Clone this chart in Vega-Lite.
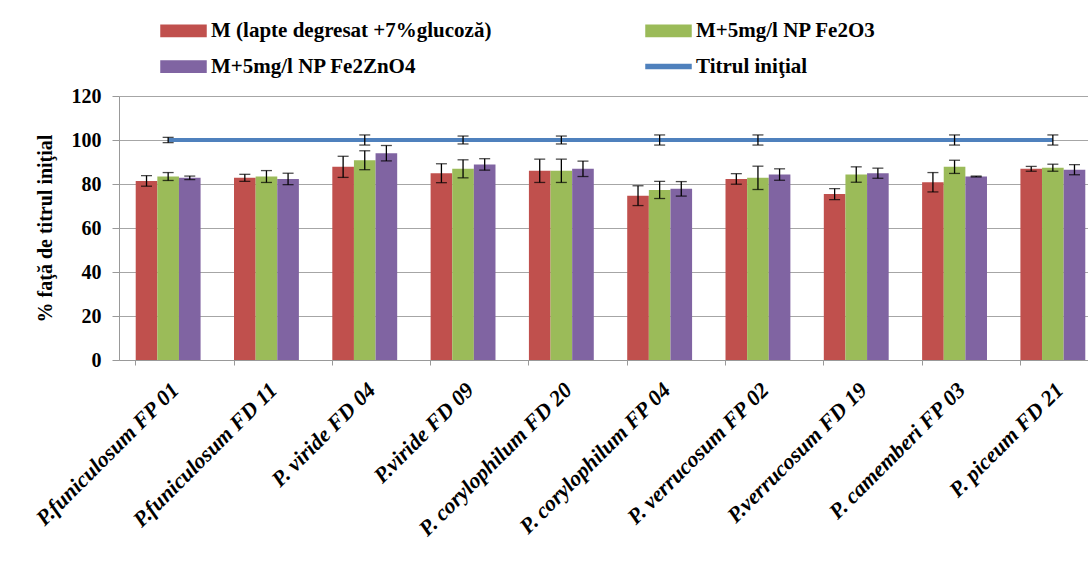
{
  "$schema": "https://vega.github.io/schema/vega-lite/v6.json",
  "width": 969,
  "height": 264,
  "autosize": {"type": "none"},
  "padding": {"left": 119, "top": 96, "right": 0, "bottom": 203},
  "background": "white",
  "config": {
    "font": "Liberation Serif",
    "view": {"stroke": null},
    "axis": {"labelFont": "Liberation Serif", "titleFont": "Liberation Serif", "labelColor": "black", "titleColor": "black", "domainColor": "#999999", "tickColor": "#999999", "gridColor": "#a6a6a6"},
    "legend": {"labelFont": "Liberation Serif"}
  },
  "datasets": {
    "bars": [
      {"strain": "P.funiculosum FP 01", "series": "M (lapte degresat +7%glucoză)", "value": 81.4, "lo": 79.0, "hi": 83.8},
      {"strain": "P.funiculosum FP 01", "series": "M+5mg/l NP Fe2O3", "value": 83.4, "lo": 81.6, "hi": 85.2},
      {"strain": "P.funiculosum FP 01", "series": "M+5mg/l NP Fe2ZnO4", "value": 82.8, "lo": 82.0, "hi": 83.6},
      {"strain": "P.funiculosum FD 11", "series": "M (lapte degresat +7%glucoză)", "value": 82.8, "lo": 81.2, "hi": 84.4},
      {"strain": "P.funiculosum FD 11", "series": "M+5mg/l NP Fe2O3", "value": 83.4, "lo": 80.7, "hi": 86.1},
      {"strain": "P.funiculosum FD 11", "series": "M+5mg/l NP Fe2ZnO4", "value": 82.3, "lo": 79.7, "hi": 84.9},
      {"strain": "P. viride FD 04", "series": "M (lapte degresat +7%glucoză)", "value": 87.8, "lo": 83.0, "hi": 92.6},
      {"strain": "P. viride FD 04", "series": "M+5mg/l NP Fe2O3", "value": 90.8, "lo": 86.5, "hi": 95.1},
      {"strain": "P. viride FD 04", "series": "M+5mg/l NP Fe2ZnO4", "value": 94.0, "lo": 90.5, "hi": 97.5},
      {"strain": "P.viride FD 09", "series": "M (lapte degresat +7%glucoză)", "value": 84.9, "lo": 80.6, "hi": 89.2},
      {"strain": "P.viride FD 09", "series": "M+5mg/l NP Fe2O3", "value": 86.9, "lo": 82.8, "hi": 91.0},
      {"strain": "P.viride FD 09", "series": "M+5mg/l NP Fe2ZnO4", "value": 88.9, "lo": 86.3, "hi": 91.5},
      {"strain": "P. corylophilum FD 20", "series": "M (lapte degresat +7%glucoză)", "value": 86.0, "lo": 80.7, "hi": 91.3},
      {"strain": "P. corylophilum FD 20", "series": "M+5mg/l NP Fe2O3", "value": 86.0, "lo": 80.7, "hi": 91.3},
      {"strain": "P. corylophilum FD 20", "series": "M+5mg/l NP Fe2ZnO4", "value": 86.9, "lo": 83.4, "hi": 90.4},
      {"strain": "P. corylophilum FP 04", "series": "M (lapte degresat +7%glucoză)", "value": 74.7, "lo": 70.2, "hi": 79.2},
      {"strain": "P. corylophilum FP 04", "series": "M+5mg/l NP Fe2O3", "value": 77.3, "lo": 73.4, "hi": 81.2},
      {"strain": "P. corylophilum FP 04", "series": "M+5mg/l NP Fe2ZnO4", "value": 77.8, "lo": 74.5, "hi": 81.1},
      {"strain": "P. verrucosum FP 02", "series": "M (lapte degresat +7%glucoză)", "value": 82.3, "lo": 79.9, "hi": 84.7},
      {"strain": "P. verrucosum FP 02", "series": "M+5mg/l NP Fe2O3", "value": 82.8, "lo": 77.5, "hi": 88.1},
      {"strain": "P. verrucosum FP 02", "series": "M+5mg/l NP Fe2ZnO4", "value": 84.3, "lo": 81.7, "hi": 86.9},
      {"strain": "P.verrucosum FD 19", "series": "M (lapte degresat +7%glucoză)", "value": 75.4, "lo": 72.9, "hi": 77.9},
      {"strain": "P.verrucosum FD 19", "series": "M+5mg/l NP Fe2O3", "value": 84.3, "lo": 80.8, "hi": 87.8},
      {"strain": "P.verrucosum FD 19", "series": "M+5mg/l NP Fe2ZnO4", "value": 84.9, "lo": 82.6, "hi": 87.2},
      {"strain": "P. camemberi FP 03", "series": "M (lapte degresat +7%glucoză)", "value": 80.8, "lo": 76.4, "hi": 85.2},
      {"strain": "P. camemberi FP 03", "series": "M+5mg/l NP Fe2O3", "value": 87.8, "lo": 84.8, "hi": 90.8},
      {"strain": "P. camemberi FP 03", "series": "M+5mg/l NP Fe2ZnO4", "value": 83.4, "lo": 83.2, "hi": 83.6},
      {"strain": "P. piceum FD 21", "series": "M (lapte degresat +7%glucoză)", "value": 86.9, "lo": 85.8, "hi": 88.0},
      {"strain": "P. piceum FD 21", "series": "M+5mg/l NP Fe2O3", "value": 87.4, "lo": 85.8, "hi": 89.0},
      {"strain": "P. piceum FD 21", "series": "M+5mg/l NP Fe2ZnO4", "value": 86.5, "lo": 84.2, "hi": 88.8}
    ],
    "line": [
      {"strain": "P.funiculosum FP 01", "series": "Titrul iniţial", "value": 100, "lo": 98.8, "hi": 101.2},
      {"strain": "P.funiculosum FD 11", "series": "Titrul iniţial", "value": 100},
      {"strain": "P. viride FD 04", "series": "Titrul iniţial", "value": 100, "lo": 97.7, "hi": 102.3},
      {"strain": "P.viride FD 09", "series": "Titrul iniţial", "value": 100, "lo": 98.2, "hi": 101.8},
      {"strain": "P. corylophilum FD 20", "series": "Titrul iniţial", "value": 100, "lo": 98.2, "hi": 101.8},
      {"strain": "P. corylophilum FP 04", "series": "Titrul iniţial", "value": 100, "lo": 97.7, "hi": 102.3},
      {"strain": "P. verrucosum FP 02", "series": "Titrul iniţial", "value": 100, "lo": 97.7, "hi": 102.3},
      {"strain": "P.verrucosum FD 19", "series": "Titrul iniţial", "value": 100},
      {"strain": "P. camemberi FP 03", "series": "Titrul iniţial", "value": 100, "lo": 97.7, "hi": 102.3},
      {"strain": "P. piceum FD 21", "series": "Titrul iniţial", "value": 100, "lo": 97.7, "hi": 102.3}
    ]
  },
  "layer": [
    {
      "data": {"name": "bars"},
      "mark": {"type": "bar"},
      "encoding": {
        "x": {
          "field": "strain", "type": "nominal", "sort": null,
          "scale": {"range": [0, 983], "paddingInner": 0.34, "paddingOuter": 0.17},
          "axis": {"title": null, "labelAngle": -45, "labelFontSize": 22, "labelFontWeight": "bold", "labelFontStyle": "italic", "bandPosition": 0, "tickSize": 5, "labelPadding": 14, "labelLimit": 0, "grid": false}
        },
        "xOffset": {"field": "series", "sort": null},
        "y": {
          "field": "value", "type": "quantitative",
          "scale": {"domain": [0, 120]},
          "axis": {"title": "% faţă de titrul iniţial", "titleFontSize": 20, "titleFontWeight": "bold", "titlePadding": 16, "values": [0, 20, 40, 60, 80, 100, 120], "labelFontSize": 20, "labelFontWeight": "bold", "tickSize": 7, "labelPadding": 11, "grid": true}
        },
        "color": {
          "field": "series", "type": "nominal",
          "scale": {"domain": ["M (lapte degresat +7%glucoză)", "M+5mg/l NP Fe2O3", "M+5mg/l NP Fe2ZnO4", "Titrul iniţial"], "range": ["#C0504D", "#9BBB59", "#8064A2", "#4F81BD"]},
          "legend": {
            "title": null, "orient": "none", "direction": "horizontal", "legendX": 41, "legendY": -89, "columns": 2, "columnPadding": 151, "rowPadding": 2,
            "symbolSize": 2025, "labelFontSize": 21, "labelFontWeight": "bold", "labelColor": "black", "labelLimit": 0, "labelOffset": 4,
            "encode": {
              "symbols": {"update": {
                "shape": {"signal": "datum.label === 'Titrul iniţial' ? 'M-1,-0.09H1V0.09H-1Z' : 'M-1,-0.25H1V0.25H-1Z'"},
                "fill": {"scale": "color", "field": "value"},
                "stroke": {"value": "transparent"},
                "opacity": {"value": 1}
              }}
            }
          }
        }
      }
    },
    {
      "data": {"name": "bars"},
      "mark": {"type": "rule", "color": "black", "strokeWidth": 1.3},
      "encoding": {
        "x": {"field": "strain", "type": "nominal", "sort": null},
        "xOffset": {"field": "series", "sort": null},
        "y": {"field": "lo", "type": "quantitative"},
        "y2": {"field": "hi"}
      }
    },
    {
      "data": {"name": "bars"},
      "mark": {"type": "tick", "color": "black", "size": 11, "thickness": 1.3},
      "encoding": {
        "x": {"field": "strain", "type": "nominal", "sort": null},
        "xOffset": {"field": "series", "sort": null},
        "y": {"field": "lo", "type": "quantitative"}
      }
    },
    {
      "data": {"name": "bars"},
      "mark": {"type": "tick", "color": "black", "size": 11, "thickness": 1.3},
      "encoding": {
        "x": {"field": "strain", "type": "nominal", "sort": null},
        "xOffset": {"field": "series", "sort": null},
        "y": {"field": "hi", "type": "quantitative"}
      }
    },
    {
      "data": {"name": "line"},
      "mark": {"type": "line", "strokeWidth": 4},
      "encoding": {
        "x": {"field": "strain", "type": "nominal", "sort": null},
        "y": {"field": "value", "type": "quantitative"},
        "color": {"field": "series", "type": "nominal"}
      }
    },
    {
      "data": {"name": "line"},
      "mark": {"type": "rule", "color": "black", "strokeWidth": 1.3},
      "encoding": {
        "x": {"field": "strain", "type": "nominal", "sort": null},
        "y": {"field": "lo", "type": "quantitative"},
        "y2": {"field": "hi"}
      }
    },
    {
      "data": {"name": "line"},
      "mark": {"type": "tick", "color": "black", "size": 11, "thickness": 1.3},
      "encoding": {
        "x": {"field": "strain", "type": "nominal", "sort": null},
        "y": {"field": "lo", "type": "quantitative"}
      }
    },
    {
      "data": {"name": "line"},
      "mark": {"type": "tick", "color": "black", "size": 11, "thickness": 1.3},
      "encoding": {
        "x": {"field": "strain", "type": "nominal", "sort": null},
        "y": {"field": "hi", "type": "quantitative"}
      }
    }
  ]
}
